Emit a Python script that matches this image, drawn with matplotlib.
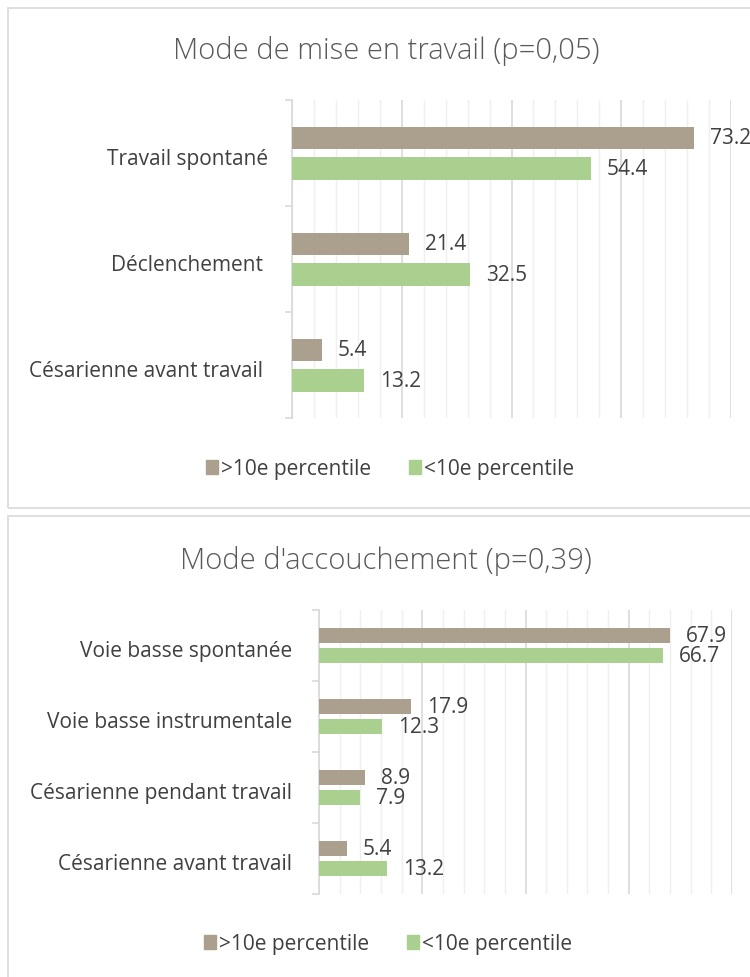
import matplotlib
matplotlib.use("Agg")
import matplotlib.pyplot as plt
from matplotlib.patches import Rectangle, Patch
from matplotlib.ticker import MultipleLocator

plt.rcParams["font.family"] = ["Open Sans", "DejaVu Sans"]

# Données
titre_1 = "Mode de mise en travail (p=0,05)"
categories_1 = ["Travail spontané", "Déclenchement ", "Césarienne avant travail "]
sup10_1 = [73.2, 21.4, 5.4]
inf10_1 = [54.4, 32.5, 13.2]

titre_2 = "Mode d'accouchement (p=0,39)"
categories_2 = ["Voie basse spontanée", "Voie basse instrumentale",
                "Césarienne pendant travail", "Césarienne avant travail"]
sup10_2 = [67.9, 17.9, 8.9, 5.4]
inf10_2 = [66.7, 12.3, 7.9, 13.2]

series = [">10e percentile", "<10e percentile"]

BRUN = "#ab9f8e"
VERT = "#a9d08e"
TXT = "#404040"
GRILLE = "#d9d9d9"
GRILLE_MIN = "#efefef"

W, H = 750, 978
fig = plt.figure(figsize=(W / 100, H / 100), dpi=100)


def fx(px):
    return px / W


def fy(py):
    return 1 - py / H


# Cadres des deux graphiques
fig.patches.append(Rectangle((fx(8), fy(509)), 1.2, fy(9) - fy(509),
                             transform=fig.transFigure, fill=False,
                             edgecolor="#d9d9d9", lw=1.2))
fig.patches.append(Rectangle((fx(8), -0.1), 1.2, fy(517) + 0.1,
                             transform=fig.transFigure, fill=False,
                             edgecolor="#d9d9d9", lw=1.2))


def graphique(box, titre, ty, cats, v1, v2, ly, lx, pad):
    left, top, right, bottom = box
    ax = fig.add_axes([fx(left), fy(bottom), fx(right) - fx(left), fy(top) - fy(bottom)])
    n = len(cats)
    pos = list(range(n))
    off, h = 0.145, 0.21
    b1 = ax.barh([p - off for p in pos], v1, height=h, color=BRUN, zorder=3)
    b2 = ax.barh([p + off for p in pos], v2, height=h, color=VERT, zorder=3)
    for bars, vals in ((b1, v1), (b2, v2)):
        for b, v in zip(bars, vals):
            ax.annotate(f"{v:.1f}", (v, b.get_y() + b.get_height() / 2),
                        xytext=(11.5, 0), textcoords="offset points",
                        va="center", ha="left", fontsize=15, color=TXT,
                        annotation_clip=False)
    ax.set_xlim(0, 80)
    ax.set_ylim(n - 0.5, -0.5)
    ax.xaxis.set_major_locator(MultipleLocator(20))
    ax.xaxis.set_minor_locator(MultipleLocator(4))
    ax.grid(axis="x", which="major", color=GRILLE, lw=1.2, zorder=0)
    ax.grid(axis="x", which="minor", color=GRILLE_MIN, lw=1.0, zorder=0)
    ax.tick_params(axis="x", which="both", length=0, labelbottom=False)
    ax.set_yticks([i - 0.5 for i in range(n + 1)])
    ax.set_yticklabels([])
    ax.tick_params(axis="y", which="major", length=5, color=GRILLE, width=1.2)
    ax.set_yticks([p + 0.03 for p in pos], minor=True)
    ax.set_yticklabels(cats, minor=True, fontsize=15, color=TXT)
    ax.tick_params(axis="y", which="minor", length=0, pad=pad)
    for s in ("top", "right", "bottom"):
        ax.spines[s].set_visible(False)
    ax.spines["left"].set_color(GRILLE)
    ax.spines["left"].set_linewidth(1.2)
    fig.text(fx(386), fy(ty), titre, ha="center", va="center",
             fontsize=21, color="#595959", fontweight="light")
    handles = [Patch(color=BRUN, label=series[0]), Patch(color=VERT, label=series[1])]
    fig.legend(handles=handles, loc="center", bbox_to_anchor=(fx(lx), fy(ly)),
               ncol=2, frameon=False, fontsize=15, labelcolor=TXT,
               handlelength=0.6, handleheight=0.65, handletextpad=0.15,
               columnspacing=1.8)
    return ax


graphique((292, 101, 731, 419), titre_1, 51, categories_1, sup10_1, inf10_1, 470, 390, 17)
graphique((319, 611, 732, 895), titre_2, 561, categories_2, sup10_2, inf10_2, 945, 388, 19.5)

fig.savefig("out.png", dpi=100, facecolor="white")
